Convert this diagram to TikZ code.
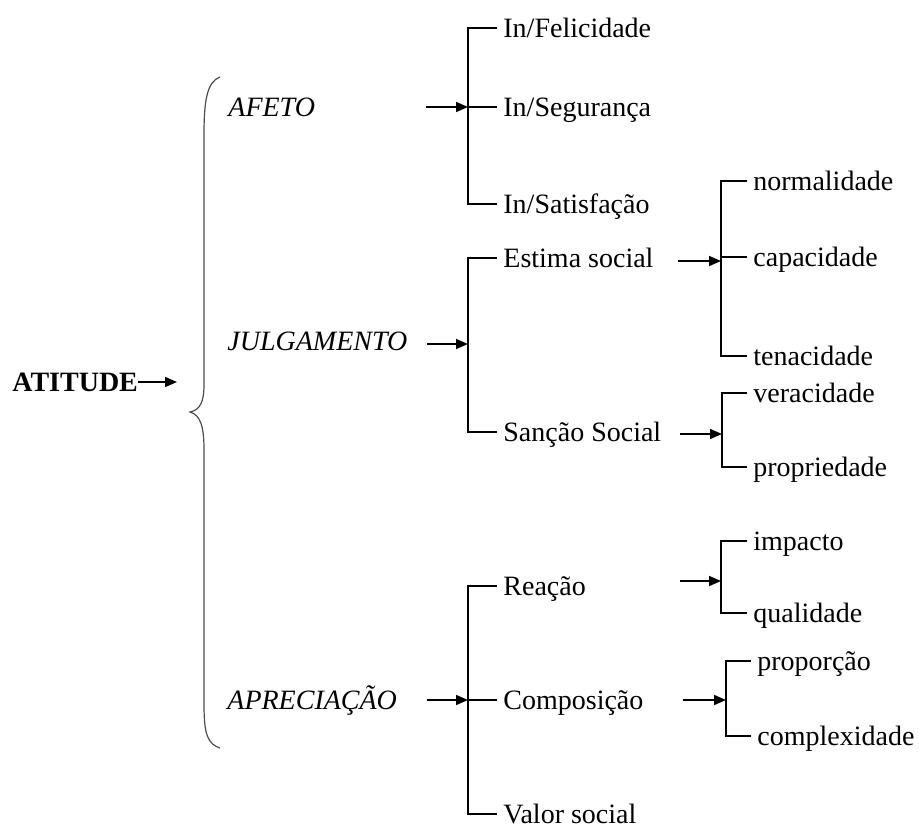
\documentclass[tikz,border=0pt]{standalone}
\usepackage{fontspec}
\setmainfont{Liberation Serif}
\usetikzlibrary{arrows.meta}

\begin{document}
\begin{tikzpicture}[
  x=0.5pt, y=-0.5pt,
  >={Triangle[length=6pt,width=5pt]},
  font=\fontsize{14}{16.8}\selectfont,
  txt/.style={anchor=west, inner xsep=3pt, inner ysep=0pt,
              text height=9.3pt, text depth=0pt},
  cat/.style={txt, font=\fontsize{14}{16.8}\selectfont\itshape},
  root/.style={txt, inner xsep=0pt, font=\fontsize{14}{16.8}\selectfont\bfseries},
  arr/.style={->, line width=0.8pt},
  bline/.style={line width=0.75pt},
  brc/.style={line width=0.6pt, black!70}
]
\useasboundingbox (0,0) rectangle (919,830);

%% Root and brace
\node[root] (atitude) at (12,382) {ATITUDE};
\coordinate (rootend) at (177,382);
\draw[arr] (atitude.east) -- (rootend);
\draw[brc] (220,77) .. controls (207,82) and (204,100) .. (204,135)
  -- (204,385) .. controls (204,402) and (200,410) .. (190,412)
  .. controls (200,415) and (204,425) .. (204,450)
  -- (204,705) .. controls (204,735) and (208,744) .. (220,748);

%% Subsystems
\node[cat] (afeto) at (222,107) {AFETO};
\node[cat] (julg)  at (221,341) {JULGAMENTO};
\node[cat] (aprec) at (221,700) {APRECIAÇÃO};

%% Afeto
\node[txt] (felic) at (497,28)  {In/Felicidade};
\node[txt] (segur) at (497,107) {In/Segurança};
\node[txt] (satis) at (497,204) {In/Satisfação};
\coordinate (aA) at (426,107);
\coordinate (bA) at (468,107);
\draw[arr] (aA) -- (bA);
\draw[bline] (felic.west) -| (bA) |- (satis.west);
\draw[bline] (bA) -- (segur.west);

%% Julgamento
\node[txt] (estima) at (497,258) {Estima social};
\node[txt] (sancao) at (497,432) {Sanção Social};
\coordinate (aJ) at (427,344);
\coordinate (bJ) at (468,344);
\draw[arr] (aJ) -- (bJ);
\draw[bline] (estima.west) -| (bJ) |- (sancao.west);

%% Estima social
\node[txt] (normal) at (747,181) {normalidade};
\node[txt] (capac)  at (747,257) {capacidade};
\node[txt] (tenac)  at (747,356) {tenacidade};
\coordinate (aE) at (678,261);
\coordinate (bE) at (721,261);
\draw[arr] (aE) -- (bE);
\draw[bline] (normal.west) -| (bE) |- (tenac.west);
\draw[bline] (capac.west -| bE) -- (capac.west);

%% Sancao social
\node[txt] (verac) at (747,393) {veracidade};
\node[txt] (propr) at (747,467) {propriedade};
\coordinate (aS) at (680,434);
\coordinate (bS) at (722,434);
\draw[arr] (aS) -- (bS);
\draw[bline] (verac.west) -| (bS) |- (propr.west);

%% Apreciacao
\node[txt] (reacao) at (497,586) {Reação};
\node[txt] (compos) at (497,700) {Composição};
\node[txt] (valor)  at (497,814) {Valor social};
\coordinate (aP) at (427,700);
\coordinate (bP) at (468,700);
\draw[arr] (aP) -- (bP);
\draw[bline] (reacao.west) -| (bP) |- (valor.west);
\draw[bline] (bP) -- (compos.west);

%% Reacao
\node[txt] (impac)  at (747,541) {impacto};
\node[txt] (qualid) at (747,613) {qualidade};
\coordinate (aR) at (680,581);
\coordinate (bR) at (721,581);
\draw[arr] (aR) -- (bR);
\draw[bline] (impac.west) -| (bR) |- (qualid.west);

%% Composicao
\node[txt] (propor)  at (751,661) {proporção};
\node[txt] (complex) at (751,736) {complexidade};
\coordinate (aC) at (683,700);
\coordinate (bC) at (726,700);
\draw[arr] (aC) -- (bC);
\draw[bline] (propor.west) -| (bC) |- (complex.west);

\end{tikzpicture}
\end{document}
